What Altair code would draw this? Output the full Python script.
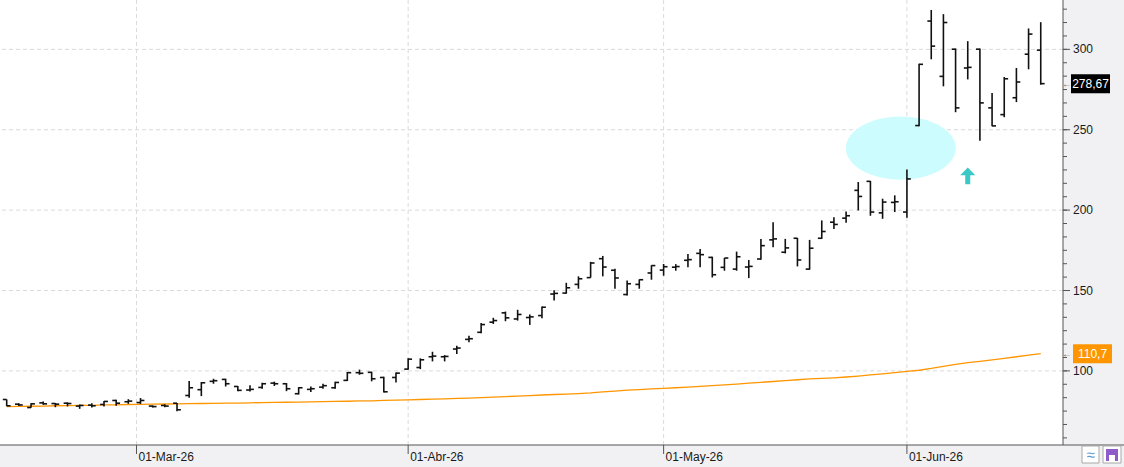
import altair as alt
import pandas as pd

# ---------------- data ----------------
opens = [82.2, 79.3, 77.2, 80.1, 79.7, 79.9, 78.1, 78.7, 79.1, 81.6,
         80.8, 80.3, 78.1, 78.5, 79.9, 84.7, 88.3, 93.5, 94.7, 90.3,
         88.1, 89.7, 92.4, 92.0, 85.8, 88.5, 89.9, 89.5, 94.1, 98.9,
         99.1, 95.9, 95.9, 101.1, 102.1, 108.8, 108.8, 113.6, 119.6, 124.0,
         130.3, 136.1, 132.3, 133.2, 134.4, 147.8, 148.4, 153.8, 158.0, 169.8,
         162.6, 147.5, 153.8, 160.9, 162.7, 164.5, 168.8, 173.1, 170.6, 164.4,
         163.3, 164.6, 169.6, 181.5, 173.8, 182.5, 163.3, 182.5, 192.5, 195.0,
         212.3, 217.9, 198.3, 204.8, 198.8, 252.6, 317.6, 283.2, 300.1, 288.4,
         300.1, 263.6, 259.4, 269.9, 297.0, 299.5]
highs = [82.2, 79.9, 79.9, 81.0, 80.0, 80.4, 79.1, 79.9, 81.2, 82.0,
         82.4, 83.1, 78.5, 79.3, 80.1, 93.7, 93.1, 95.1, 95.1, 90.6,
         91.0, 92.6, 93.3, 92.4, 89.9, 90.3, 92.0, 93.3, 99.3, 100.8,
         99.5, 96.3, 99.0, 107.8, 107.8, 111.9, 109.8, 115.7, 121.9, 129.8,
         133.0, 136.9, 138.0, 135.1, 140.0, 150.1, 154.8, 158.8, 167.8, 171.5,
         163.6, 156.3, 156.9, 165.7, 166.5, 166.4, 172.7, 175.8, 171.0, 170.2,
         174.2, 169.0, 182.1, 192.5, 182.1, 182.7, 181.5, 193.6, 195.6, 199.2,
         217.5, 218.1, 207.1, 209.2, 225.2, 291.1, 324.5, 321.9, 300.5, 305.1,
         300.5, 272.8, 282.8, 288.4, 313.0, 316.9]
lows = [78.1, 78.1, 77.0, 78.9, 77.4, 77.9, 76.4, 77.2, 77.8, 78.3,
        79.5, 79.5, 77.2, 77.4, 74.9, 83.3, 84.3, 92.0, 90.3, 87.4,
        87.2, 88.9, 90.6, 87.4, 85.3, 86.8, 88.9, 88.9, 93.7, 97.6,
        93.5, 86.6, 92.8, 100.7, 101.1, 105.9, 105.9, 110.5, 117.8, 123.4,
        129.2, 130.9, 131.3, 128.6, 132.8, 143.8, 148.0, 151.1, 158.0, 158.8,
        151.1, 146.9, 151.1, 156.7, 159.2, 162.3, 164.4, 164.4, 158.1, 162.3,
        162.3, 157.7, 169.2, 176.9, 173.1, 165.0, 162.9, 182.1, 188.3, 192.1,
        199.8, 196.5, 194.6, 198.8, 195.2, 252.2, 293.8, 277.0, 260.9, 281.3,
        243.2, 252.2, 257.8, 267.2, 287.6, 278.0]
closes = [78.3, 78.8, 79.5, 79.5, 79.3, 79.7, 78.5, 78.3, 81.0, 79.9,
          81.2, 81.6, 77.8, 78.1, 75.8, 89.5, 92.6, 93.9, 92.0, 87.9,
          88.5, 92.0, 92.0, 88.9, 89.5, 88.9, 90.8, 92.8, 98.9, 98.5,
          95.1, 87.0, 98.6, 107.3, 106.9, 109.2, 109.0, 114.2, 120.0, 128.8,
          131.3, 133.0, 135.1, 133.6, 139.6, 148.2, 151.7, 157.3, 167.1, 164.6,
          157.8, 154.2, 156.7, 165.5, 164.8, 164.9, 169.2, 172.3, 159.8, 170.2,
          171.0, 165.0, 177.9, 182.1, 176.5, 169.0, 176.3, 186.7, 191.1, 196.5,
          208.5, 198.8, 205.0, 205.2, 219.4, 290.7, 302.0, 316.7, 263.6, 288.8,
          266.7, 252.4, 281.7, 279.7, 309.5, 278.67]
moving_avg = [77.8, 77.9, 78.0, 78.1, 78.3, 78.4, 78.5, 78.6, 78.8, 78.9,
              79.1, 79.2, 79.3, 79.4, 79.5, 79.6, 79.7, 79.8, 79.9, 80.0,
              80.1, 80.3, 80.4, 80.5, 80.6, 80.7, 80.9, 81.0, 81.1, 81.3,
              81.4, 81.6, 81.8, 82.0, 82.2, 82.4, 82.6, 82.9, 83.1, 83.4,
              83.7, 84.0, 84.3, 84.6, 85.0, 85.3, 85.6, 85.9, 86.3, 86.9,
              87.4, 88.0, 88.4, 88.8, 89.1, 89.5, 89.9, 90.4, 90.8, 91.3,
              91.8, 92.4, 92.9, 93.4, 94.0, 94.5, 95.0, 95.3, 95.7, 96.2,
              96.8, 97.5, 98.2, 98.9, 99.7, 100.4, 101.5, 102.8, 104.1, 105.1,
              105.9, 106.8, 107.8, 108.8, 109.8, 110.7]

month_pos = [10.67, 33, 54, 74]
month_labels = ["01-Mar-26", "01-Abr-26", "01-May-26", "01-Jun-26"]
grid_values = [100, 150, 200, 250, 300]
grid_labels = ["100", "150", "200", "250", "300"]
minor_ticks = [round(k * 50 / 6, 2) for k in range(7, 40)]
last_price = 278.67
ma_last = 110.7
ellipse_center = [73.5, 238.6]
arrow_center = [79.0, 221.3]

# ---------------- chart ----------------
W, H = 1063, 445
FONT = "Liberation Sans"
AX = "#555555"
XS = alt.Scale(domain=[-0.55, 86.83], nice=False, zero=False)
YS = alt.Scale(domain=[53.9, 330.7], nice=False, zero=False)

df = pd.DataFrame({"i": list(range(len(opens))), "open": opens, "high": highs,
                   "low": lows, "close": closes, "ma": moving_avg})
one = pd.DataFrame({"a": [0]})
gdf = pd.DataFrame({"g": grid_values, "lab": grid_labels})
mdf = pd.DataFrame({"m": month_pos, "lab": month_labels})


def X(f):
    return alt.X(f, scale=XS, axis=None)


def Y(f):
    return alt.Y(f, scale=YS, axis=None)


# grid
hgrid = alt.Chart(gdf).mark_rule(color="#dadada", strokeDash=[4, 3], strokeWidth=1).encode(
    y=Y("g:Q"))
vgrid = alt.Chart(mdf).mark_rule(color="#dadada", strokeDash=[4, 3], strokeWidth=1).encode(
    x=X("m:Q"))

ell_path = "M -1 0 A 1 0.576 0 1 0 1 0 A 1 0.576 0 1 0 -1 0 Z"
ellipse = alt.Chart(pd.DataFrame({"x": [ellipse_center[0]], "y": [ellipse_center[1]]})).mark_point(
    shape=ell_path, size=12100, filled=True, color="#ccfcfd", opacity=1, strokeOpacity=0).encode(
    x=X("x:Q"), y=Y("y:Q"))

arrow_path = "M 0 -1 L 0.9 -0.08 L 0.3 -0.08 L 0.3 1 L -0.3 1 L -0.3 -0.08 L -0.9 -0.08 Z"
arrow = alt.Chart(pd.DataFrame({"x": [arrow_center[0]], "y": [arrow_center[1]]})).mark_point(
    shape=arrow_path, size=279, filled=True, color="#3cc9c6", opacity=1, strokeOpacity=0).encode(
    x=X("x:Q"), y=Y("y:Q"))

ma_line = alt.Chart(df).mark_line(color="#ff9600", strokeWidth=1.3).encode(
    x=X("i:Q"), y=Y("ma:Q"))

hl = alt.Chart(df).mark_rule(color="#111111", strokeWidth=1.6).encode(
    x=X("i:Q"), y=Y("low:Q"), y2="high:Q")
op = alt.Chart(df).transform_calculate(xo="datum.i - 0.32").mark_rule(
    color="#111111", strokeWidth=1.6).encode(x=X("xo:Q"), x2="i:Q", y=Y("open:Q"))
cl = alt.Chart(df).transform_calculate(xc="datum.i + 0.32").mark_rule(
    color="#111111", strokeWidth=1.6).encode(x=X("i:Q"), x2="xc:Q", y=Y("close:Q"))

# right axis (drawn with marks)
r_domain = alt.Chart(one).mark_rule(color=AX).encode(
    x=alt.value(W), y=alt.value(0), y2=alt.value(H))
r_minor = alt.Chart(pd.DataFrame({"t": minor_ticks})).mark_rule(color=AX).encode(
    x=alt.value(W), x2=alt.value(W + 4), y=Y("t:Q"))
r_major = alt.Chart(gdf).mark_rule(color=AX).encode(
    x=alt.value(W), x2=alt.value(W + 7), y=Y("g:Q"))
r_labels = alt.Chart(gdf).mark_text(font=FONT, fontSize=12, color="#1a1a1a",
                                    align="left", baseline="middle").encode(
    x=alt.value(W + 10), y=Y("g:Q"), text="lab:N")

# bottom axis (drawn with marks)
bottom_line = alt.Chart(one).mark_rule(color=AX).encode(
    x=alt.value(0), x2=alt.value(1124), y=alt.value(H))
b_ticks = alt.Chart(mdf).mark_rule(color=AX).encode(
    x=X("m:Q"), y=alt.value(H), y2=alt.value(H + 9))
b_labels = alt.Chart(mdf).mark_text(font=FONT, fontSize=12, color="#1a1a1a",
                                    align="left", baseline="alphabetic", dx=2).encode(
    x=X("m:Q"), y=alt.value(H + 16), text="lab:N")


def price_tag(value, text, x1, x2, fill):
    d = pd.DataFrame({"v": [value], "lo": [value - 5.9], "hi": [value + 5.9], "t": [text]})
    box = alt.Chart(d).mark_rect(color=fill).encode(
        x=alt.value(x1), x2=alt.value(x2), y=Y("lo:Q"), y2="hi:Q")
    txt = alt.Chart(d).mark_text(color="white", font=FONT, fontSize=12,
                                 align="center", baseline="middle").encode(
        x=alt.value((x1 + x2) / 2), y=Y("v:Q"), text="t:N")
    arr = alt.Chart(d).mark_text(color="#666666", font=FONT, fontSize=10,
                                 align="center", baseline="middle", text="←").encode(
        x=alt.value(1067), y=Y("v:Q"))
    return [box, txt, arr]


tags = (price_tag(last_price, f"{last_price:.2f}".replace(".", ","), 1071, 1110, "#000000")
        + price_tag(ma_last, f"{ma_last:.1f}".replace(".", ","), 1073, 1112, "#ff9600"))

# little buttons bottom-right
btn1 = alt.Chart(one).mark_rect(fill="white", stroke="#a8a8a8", strokeWidth=1).encode(
    x=alt.value(1082), x2=alt.value(1099), y=alt.value(446), y2=alt.value(463))
btn2 = alt.Chart(one).mark_rect(fill="white", stroke="#a8a8a8", strokeWidth=1).encode(
    x=alt.value(1103), x2=alt.value(1121), y=alt.value(446), y2=alt.value(463))
btn_icon1 = alt.Chart(one).mark_text(text="≈", color="#5b9bd5", fontSize=15,
                                     align="center", baseline="middle").encode(
    x=alt.value(1090.5), y=alt.value(454.5))
btn_icon2 = alt.Chart(one).mark_rect(color="#8e5cc8").encode(
    x=alt.value(1106), x2=alt.value(1118), y=alt.value(449), y2=alt.value(461))
btn_icon3 = alt.Chart(one).mark_rect(color="white").encode(
    x=alt.value(1109), x2=alt.value(1115), y=alt.value(455), y2=alt.value(461))

chart = alt.layer(
    hgrid, vgrid, ellipse, ma_line, hl, op, cl, arrow,
    r_domain, r_minor, r_major, r_labels, bottom_line, b_ticks, b_labels,
    *tags, btn1, btn2, btn_icon1, btn_icon2, btn_icon3
).properties(
    width=W, height=H,
    padding={"left": 0, "top": 0, "right": 61, "bottom": 22},
    autosize=alt.AutoSizeParams(type="none"),
    background="#f1f1f3",
).configure_view(fill="white", stroke=None)

chart.save("out.html", embed_options={"renderer": "svg", "actions": False})
